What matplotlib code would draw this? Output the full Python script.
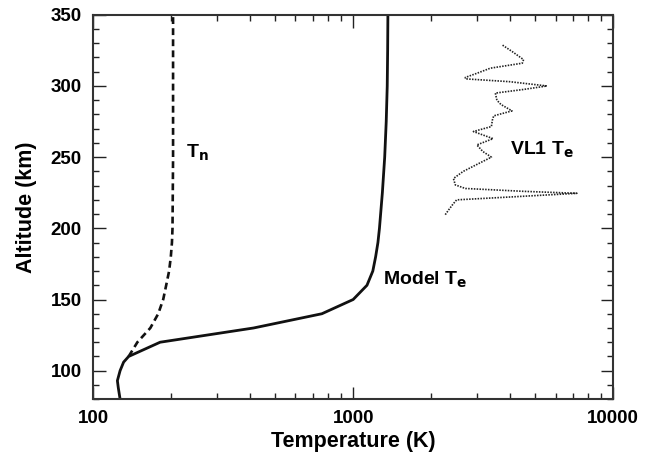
import numpy as np
import matplotlib
matplotlib.use("Agg")
from matplotlib import pyplot as plt
from matplotlib.ticker import FixedLocator, NullFormatter, MultipleLocator

plt.rcParams['font.family'] = ['Liberation Sans', 'DejaVu Sans']
plt.rcParams['font.weight'] = 'bold'

# model electron temperature (solid)
model_alt = [80, 88, 93, 100, 106, 110, 120, 130, 140, 150, 160, 170, 180, 190,
             200, 225, 250, 275, 300, 325, 350]
model_te = [127, 125, 124, 127, 131, 137, 181, 414, 758, 1000, 1130, 1190, 1220,
            1245, 1262, 1295, 1322, 1340, 1352, 1357, 1360]

# neutral temperature (dashed)
tn_alt = [110, 120, 130, 140, 150, 160, 170, 180, 190, 200, 250, 300, 350]
tn = [137, 148, 166, 178, 186, 191, 196, 199, 201, 202, 203, 203, 203]

# Viking Lander 1 electron temperature (dotted)
vl1_alt = [209.6, 213, 217, 220, 222, 224.6, 226, 228, 230.5, 235, 240, 245,
           250, 254, 258.6, 263, 268, 271.5, 276, 279, 282.5, 287, 290, 295,
           297.5, 300, 303, 305, 306, 309, 312.5, 316, 318.5, 324, 329]
vl1_te = [2260, 2330, 2420, 2500, 4000, 7250, 4500, 2700, 2470, 2430, 2650, 3000,
          3400, 3150, 2990, 3450, 2900, 3400, 3430, 3470, 4080, 3700, 3570, 3520,
          4500, 5560, 4000, 2700, 2700, 3000, 3370, 4470, 4520, 4100, 3730]

fig = plt.figure(figsize=(6.51, 4.62), dpi=100)
ax = fig.add_axes([0.143, 0.136, 0.799, 0.832])

ax.plot(model_te, model_alt, color='#111111', lw=2.0, solid_joinstyle='round')
ax.plot(tn, tn_alt, color='#111111', lw=1.9, linestyle=(0, (2.6, 1.6)))
ax.plot(vl1_te, vl1_alt, color='#222222', lw=1.2, linestyle=(0, (0.9, 0.8)))

ax.set_xscale('log')
ax.set_xlim(100, 10000)
ax.set_ylim(80, 350)

ax.xaxis.set_major_locator(FixedLocator([100, 1000, 10000]))
ax.set_xticklabels(['100', '1000', '10000'])
ax.xaxis.set_minor_locator(FixedLocator([k * 10 ** d for d in (2, 3) for k in range(2, 10)]))
ax.xaxis.set_minor_formatter(NullFormatter())
ax.yaxis.set_major_locator(FixedLocator([100, 150, 200, 250, 300, 350]))
ax.yaxis.set_minor_locator(MultipleLocator(10))

ax.tick_params(which='both', direction='in', top=True, right=True, width=1.0,
               color='#222222', labelsize=13.5)
ax.tick_params(which='major', length=9, pad=8)
ax.tick_params(which='minor', length=4)
for lbl in ax.get_xticklabels() + ax.get_yticklabels():
    lbl.set_fontweight('bold')

for s in ax.spines.values():
    s.set_linewidth(1.5)
    s.set_color('#333333')

ax.set_xlabel('Temperature (K)', fontsize=15.5, fontweight='bold', labelpad=3)
ax.set_ylabel('Altitude (km)', fontsize=15.5, fontweight='bold', labelpad=10)

ax.text(228, 253, r'T$_\mathbf{n}$', fontsize=14, fontweight='bold', va='center')
ax.text(1300, 164, r'Model T$_\mathbf{e}$', fontsize=14, fontweight='bold', va='center')
ax.text(4000, 255, r'VL1 T$_\mathbf{e}$', fontsize=14, fontweight='bold', va='center')

fig.savefig('out.png', dpi=100)
